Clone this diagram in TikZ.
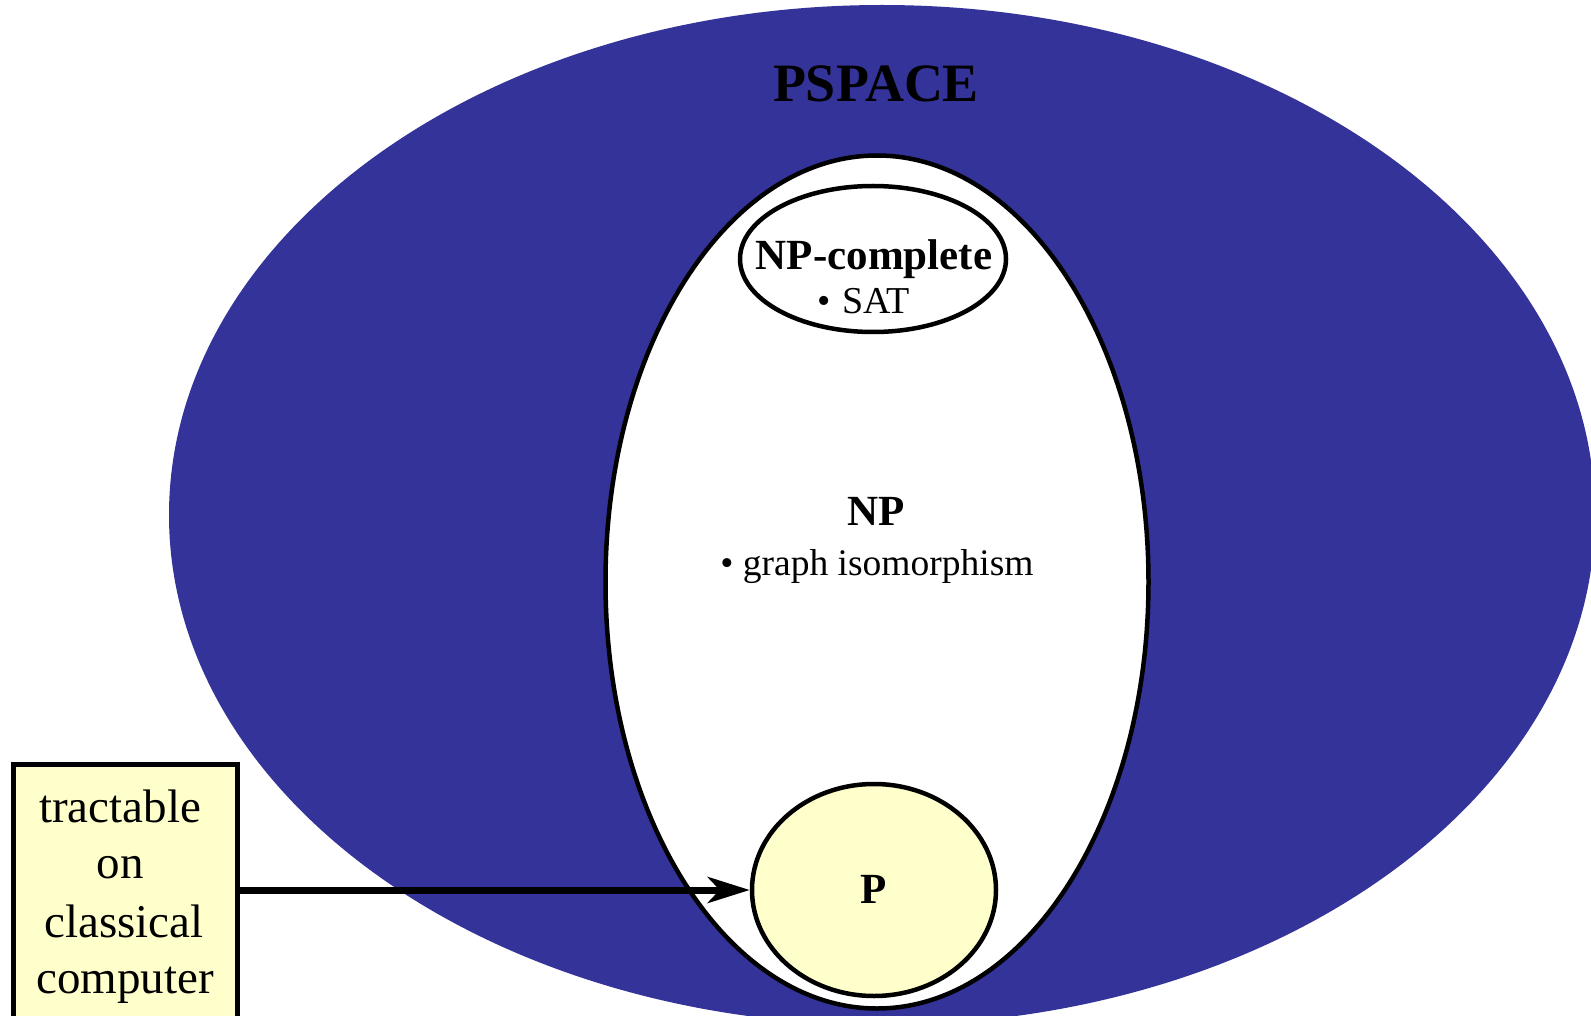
\documentclass[tikz,border=0pt]{standalone}
\usepackage{fontspec}
\setmainfont{Liberation Serif}
\usetikzlibrary{shapes.geometric,arrows.meta}
\definecolor{spaceblue}{HTML}{333399}
\definecolor{paleyellow}{HTML}{FFFFCC}
\tikzset{
  classset/.style={ellipse, draw=black, line width=4.5pt, inner sep=0pt},
  title/.style={anchor=base, font=\bfseries\fontsize{43}{48}\selectfont},
  member/.style={anchor=base, font=\fontsize{37.5}{42}\selectfont},
  notetext/.style={anchor=base, font=\fontsize{47}{52}\selectfont},
  notebox/.style={rectangle, draw=black, fill=paleyellow, line width=5pt, inner sep=0pt},
  pointer/.style={draw=black, line width=7pt, -{Stealth[length=42pt, width=26pt, inset=12pt]}}
}
\begin{document}
\begin{tikzpicture}[x=1pt, y=-1pt]
  \clip (0,0) rectangle (1591,1016);
  \fill[white] (0,0) rectangle (1591,1016);

  % PSPACE: the outer filled region
  \node[ellipse, fill=spaceblue, inner sep=0pt, minimum width=1426pt, minimum height=1020pt]
    (pspace) at (882,515) {};
  \node[anchor=base, font=\bfseries\fontsize{54}{60}\selectfont] (pspacelbl) at (876,102) {PSPACE};

  % NP
  \node[classset, fill=white, minimum width=543pt, minimum height=853pt] (np) at (877,582) {};
  \node[title] (nplbl) at (876,525) {NP};
  \node[member] (gi) at (877,575) {\textbullet{} graph isomorphism};

  % NP-complete
  \node[classset, fill=white, minimum width=266pt, minimum height=146pt] (npc) at (873,259) {};
  \node[title] (npclbl) at (874,270) {NP-complete};
  \node[member, font=\fontsize{38}{42}\selectfont] (sat) at (864,314) {\textbullet\hspace{0.3em}SAT};

  % P
  \node[classset, fill=paleyellow, minimum width=244pt, minimum height=212pt] (p) at (874,890) {};
  \node[title] (plbl) at (874,903) {P};

  % note box with pointer into P
  \node[notebox, minimum width=224pt, minimum height=290pt, anchor=north west] (note) at (11,762) {};
  \node[notetext] (l1) at (120,822) {tractable};
  \node[notetext] (l2) at (120,878) {on};
  \node[notetext] (l3) at (124,937) {classical};
  \node[notetext] (l4) at (125,993) {computer};

  \draw[pointer] (note.east |- p.west) -- (p.west);
\end{tikzpicture}
\end{document}
